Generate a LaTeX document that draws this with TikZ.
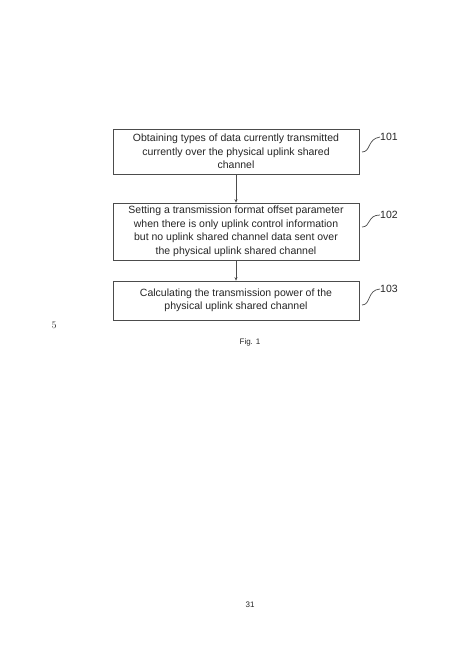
\documentclass[tikz,border=0pt]{standalone}
\usepackage{fontspec}
\setmainfont{Liberation Sans}
\usetikzlibrary{arrows.meta}
\begin{document}
\begin{tikzpicture}[x=1pt,y=-1pt,
  stepbox/.style={draw=black!70,line width=0.7pt,minimum width=246pt,inner xsep=3pt,inner ysep=2pt,align=center,font=\fontsize{10.5}{13.5}\selectfont,text=black!85},
  reflabel/.style={font=\fontsize{10.5}{12}\selectfont,text=black!85,inner sep=0pt},
  flow/.style={draw=black!70,line width=0.7pt,-{Stealth[length=3.5pt,width=3pt]}},
  squig/.style={draw=black!70,line width=0.7pt}]
\useasboundingbox (0,0) rectangle (469,664);
\fill[white] (0,0) rectangle (469,664);
\node[stepbox,minimum height=45pt] (b1) at (236,151.5) {Obtaining types of data currently transmitted\\currently over the physical uplink shared\\channel};
\node[stepbox,minimum height=57pt] (b2) at (236,231.5) {Setting a transmission format offset parameter\\when there is only uplink control information\\but no uplink shared channel data sent over\\the physical uplink shared channel};
\node[stepbox,minimum height=39pt] (b3) at (236,300.5) {Calculating the transmission power of the\\physical uplink shared channel};
\draw[flow] (b1) -- (b2);
\draw[flow] (b2) -- (b3);
\node[reflabel,anchor=west] (l1) at (380,137) {101};
\node[reflabel,anchor=west] (l2) at (380,215) {102};
\node[reflabel,anchor=west] (l3) at (380,289) {103};
\coordinate (s1) at (362,152);
\coordinate (s2) at (362,227);
\coordinate (s3) at (362,305);
\draw[squig] (s1) .. controls (371,152) and (367,139) .. (l1.west);
\draw[squig] (s2) .. controls (371,227) and (367,215) .. (l2.west);
\draw[squig] (s3) .. controls (371,305) and (367,290) .. (l3.west);
\node[font=\fontfamily{lmr}\fontsize{10}{12}\selectfont,text=black!80] (n5) at (54,325) {5};
\node[font=\fontsize{8}{10}\selectfont,text=black!85] (fig) at (250,342) {Fig. 1};
\node[font=\fontsize{8}{10}\selectfont,text=black!85] (pg) at (250,605) {31};
\end{tikzpicture}
\end{document}
